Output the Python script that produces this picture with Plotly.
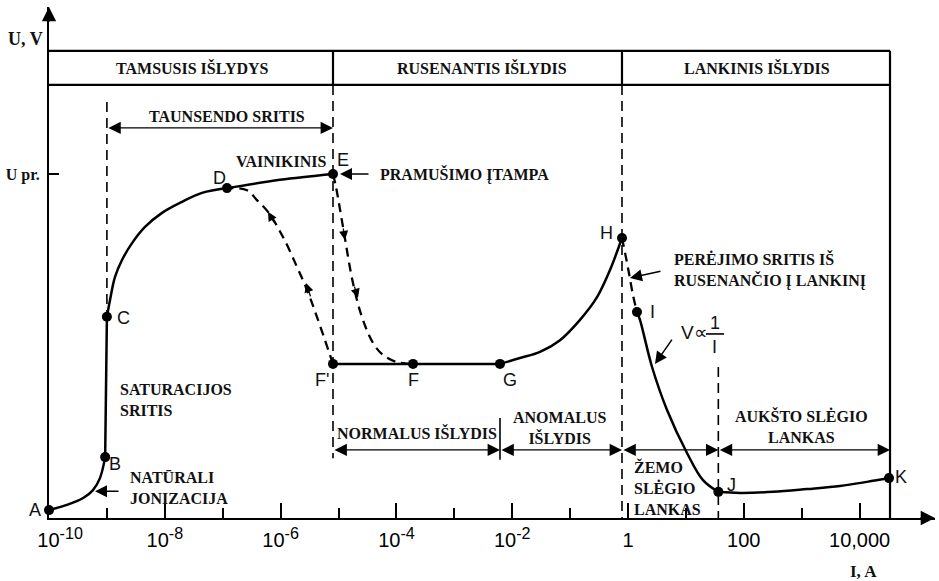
import plotly.graph_objects as go

# Current is given as log10(I / A); voltage as U / U_pr.
ab_logI = [-10.0, -9.69, -9.41, -9.24, -9.12, -9.03]
ab_U = [0.023, 0.038, 0.058, 0.081, 0.116, 0.177]

bc_logI = [-9.03, -9.0]
bc_U = [0.177, 0.585]

cd_logI = [-9.0, -8.946, -8.86, -8.739, -8.566, -8.342, -8.048, -7.702, -7.358, -6.926]
cd_U = [0.585, 0.634, 0.701, 0.750, 0.799, 0.846, 0.887, 0.919, 0.945, 0.959]

de_logI = [-6.926, -6.01, -5.095]
de_U = [0.959, 0.983, 1.0]

ef_logI = [-5.095, -5.043, -4.922, -4.75, -4.594, -4.404, -4.231, -3.99, -3.713]
ef_U = [1.0, 0.962, 0.846, 0.683, 0.584, 0.509, 0.474, 0.453, 0.448]

fd_logI = [-5.095, -5.371, -5.544, -5.717, -5.959, -6.218, -6.408, -6.58, -6.926]
fd_U = [0.448, 0.584, 0.663, 0.730, 0.817, 0.890, 0.924, 0.953, 0.959]

fg_logI = [-5.095, -2.211]
fg_U = [0.448, 0.448]

gh_logI = [-2.211, -1.865, -1.52, -1.174, -0.829, -0.535, -0.311, -0.104]
gh_U = [0.448, 0.465, 0.483, 0.517, 0.576, 0.642, 0.721, 0.814]

hi_logI = [-0.104, 0.0, 0.086, 0.155]
hi_U = [0.814, 0.727, 0.648, 0.599]

ij_logI = [0.155, 0.207, 0.415, 0.674, 1.019, 1.295, 1.56]
ij_U = [0.599, 0.576, 0.439, 0.314, 0.189, 0.110, 0.076]

jk_logI = [1.56, 1.934, 2.504, 3.091, 3.661, 4.128, 4.508]
jk_U = [0.076, 0.073, 0.076, 0.084, 0.093, 0.105, 0.116]

point_names = ["A", "B", "C", "D", "E", "F'", "F", "G", "H", "I", "J", "K"]
point_logI = [-10.0, -9.03, -9.0, -6.926, -5.095, -5.095, -3.713, -2.211, -0.104, 0.155, 1.56, 4.508]
point_U = [0.023, 0.177, 0.585, 0.959, 1.0, 0.448, 0.448, 0.448, 0.814, 0.599, 0.076, 0.116]

# Region boundaries (log10 I)
x_saturation = -9.0
x_breakdown = -5.095
x_normal_end = -2.211
x_glow_end = -0.104
x_low_arc_end = 1.56
x_right = 4.525

tick_logI = [-10, -8, -6, -4, -2, 0, 2, 4]
tick_exponents = ["-10", "-8", "-6", "-4", "-2"]
tick_plain = ["1", "100", "10,000"]
minor_tick_logI = [-9, -7, -5, -3, -1, 1, 3]


def power_label(exp):
    return f'10<sup><span style="font-size:115%">{exp}</span></sup>'


tick_text = [power_label(e) for e in tick_exponents] + tick_plain
tick_text[0] = "\u2007\u2007" + tick_text[0]

band_top, band_bottom = 1.358, 1.259

SERIF = "'Liberation Serif', 'Times New Roman', Tinos, 'DejaVu Serif', serif"
SANS = "'Liberation Sans', Arial, sans-serif"
INK = "#111111"

fig = go.Figure()

solid = dict(color="black", width=2.5)
dashed = dict(color="black", width=2.3, dash="9px,6px")

for xs, ys, ln, shp in [
    (ab_logI, ab_U, solid, "spline"),
    (bc_logI, bc_U, solid, "linear"),
    (cd_logI, cd_U, solid, "spline"),
    (de_logI, de_U, solid, "spline"),
    (ef_logI, ef_U, dashed, "spline"),
    (fd_logI, fd_U, dashed, "spline"),
    (fg_logI, fg_U, solid, "linear"),
    (gh_logI, gh_U, solid, "spline"),
    (hi_logI, hi_U, dashed, "spline"),
    (ij_logI, ij_U, solid, "spline"),
    (jk_logI, jk_U, solid, "spline"),
]:
    fig.add_trace(go.Scatter(x=xs, y=ys, mode="lines", line=dict(shape=shp, **ln),
                             hoverinfo="skip", showlegend=False))

fig.add_trace(go.Scatter(x=point_logI, y=point_U, mode="markers",
                         marker=dict(color="black", size=10),
                         text=point_names, cliponaxis=False, showlegend=False))

shapes = []


def hline(x0, x1, y, width=2, dash=None):
    shapes.append(dict(type="line", xref="x", yref="y", x0=x0, x1=x1, y0=y, y1=y,
                       line=dict(color="black", width=width, dash=dash)))


def vline(x, y0, y1, width=2, dash=None):
    shapes.append(dict(type="line", xref="x", yref="y", x0=x, x1=x, y0=y0, y1=y1,
                       line=dict(color="black", width=width, dash=dash)))


# Discharge-type header band
hline(-10.0, x_right, band_top, 2.2)
hline(-10.0, x_right, band_bottom, 2.2)
vline(x_breakdown, band_bottom, band_top, 2.2)
vline(x_glow_end, band_bottom, band_top, 2.2)
vline(x_right, 0, band_top, 2.2)

# Region separators
vdash = "10px,6px"
vline(x_saturation, 1.209, 0.585, 1.6, vdash)
vline(x_breakdown, band_bottom, 0.174, 1.6, vdash)
vline(x_glow_end, band_bottom, 0.0, 1.6, vdash)
vline(x_low_arc_end, 0.439, 0.0, 1.6, vdash)
vline(x_normal_end, 0.169, 0.291, 1.6)

# Fraction bar of V ∝ 1/I
hline(1.347, 1.658, 0.535, 1.6)

annotations = []


def text(x, y, s, size=16, serif=True, bold=True, xanchor="center", align="center",
         ref="data"):
    r = "x" if ref == "data" else "paper"
    ry = "y" if ref == "data" else "paper"
    annotations.append(dict(
        x=x, y=y, xref=r, yref=ry, text=f"<b>{s}</b>" if bold else s,
        showarrow=False, xanchor=xanchor, yanchor="middle", align=align,
        font=dict(family=SERIF if serif else SANS, size=size, color=INK)))


def arrow(x, y, ax, ay, both=False, size=1.4, width=1.4):
    d = dict(x=x, y=y, ax=ax, ay=ay, xref="x", yref="y", axref="x", ayref="y",
             text="", showarrow=True, arrowhead=2, arrowsize=size, arrowwidth=width,
             arrowcolor="black", standoff=0)
    if both:
        d.update(arrowside="end+start", startarrowhead=2, startarrowsize=size, startstandoff=0)
    annotations.append(d)


# Header band labels
band_mid = (band_top + band_bottom) / 2
text(-7.53, band_mid, "TAMSUSIS IŠLYDYS")
text(-2.52, band_mid, "RUSENANTIS IŠLYDIS")
text(2.23, band_mid, "LANKINIS IŠLYDIS")

# Range brackets
arrow(x_breakdown, 1.134, x_saturation, 1.134, both=True, size=1.9, width=1.3)
text(-6.93, 1.166, "TAUNSENDO SRITIS")
arrow(x_normal_end, 0.198, x_breakdown, 0.198, both=True, size=1.9, width=1.3)
arrow(x_glow_end, 0.198, x_normal_end, 0.198, both=True, size=1.9, width=1.3)
arrow(x_low_arc_end, 0.198, x_glow_end, 0.198, both=True, size=1.9, width=1.3)
arrow(x_right, 0.198, x_low_arc_end, 0.198, both=True, size=1.9, width=1.3)
text(-3.64, 0.247, "NORMALUS IŠLYDIS")
text(-1.19, 0.262, "ANOMALUS<br>IŠLYDIS")
text(0.07, 0.087, "ŽEMO<br>SLĖGIO<br>LANKAS", xanchor="left", align="left")
text(2.99, 0.267, "AUKŠTO SLĖGIO<br>LANKAS")

# Descriptive labels and pointers
text(-5.98, 1.035, "VAINIKINIS")
text(-4.318, 1.0, "PRAMUŠIMO ĮTAMPA", xanchor="left")
arrow(-4.974, 1.0, -4.456, 1.0, size=1.6, width=1.5)
text(-8.808, 0.343, "SATURACIJOS<br>SRITIS", xanchor="left", align="left")
text(-8.636, 0.087, "NATŪRALI<br>JONIZACIJA", xanchor="left", align="left")
arrow(-9.206, 0.078, -8.774, 0.078, size=1.6, width=1.5)
text(0.76, 0.721, "PERĖJIMO SRITIS IŠ<br>RUSENANČIO Į LANKINĮ", xanchor="left", align="left")
arrow(0.034, 0.698, 0.587, 0.718, size=1.6, width=1.5)
arrow(0.466, 0.448, 0.777, 0.523, size=1.6, width=1.5)

# V ∝ 1/I
text(1.14, 0.538, "V∝", size=19, serif=False, bold=False)
text(1.50, 0.568, "1", size=18, serif=False, bold=False)
text(1.50, 0.498, "I", size=18, serif=False, bold=False)

# Direction arrows along the dashed transitions
arrow(-6.218, 0.890, -6.097, 0.855, size=1.4, width=1.3)
arrow(-5.561, 0.683, -5.475, 0.640, size=1.4, width=1.3)
arrow(-4.888, 0.808, -4.922, 0.846, size=1.4, width=1.3)
arrow(-4.663, 0.640, -4.733, 0.677, size=1.4, width=1.3)

# Point letters (A sits left of the plotting area, so it is placed in paper units)
letter_pos = {
    "B": (-8.86, 0.157), "C": (-8.72, 0.581), "D": (-7.064, 0.988),
    "E": (-4.922, 1.041), "F'": (-5.285, 0.401), "F": (-3.713, 0.401), "G": (-2.038, 0.401),
    "H": (-0.363, 0.828), "I": (0.415, 0.599), "J": (1.779, 0.096), "K": (4.715, 0.119),
}
for name in point_names:
    if name in letter_pos:
        lx, ly = letter_pos[name]
        text(lx, ly, name, size=18, serif=False, bold=False)
text(-0.0158, 0.0157, "A", size=18, serif=False, bold=False, ref="paper")

# Axis titles
text(-0.026, 0.937, "U, V", size=18, ref="paper")
text(0.919, -0.104, "I, A", size=17, ref="paper")

# Axis arrowheads
annotations.append(dict(x=1.0, y=0, xref="paper", yref="paper", ax=-16, ay=0, text="",
                        showarrow=True, arrowhead=2, arrowsize=1.3, arrowwidth=2.2,
                        arrowcolor="black", standoff=0))
annotations.append(dict(x=0, y=1.0, xref="paper", yref="paper", ax=0, ay=16, text="",
                        showarrow=True, arrowhead=2, arrowsize=1.3, arrowwidth=2.2,
                        arrowcolor="black", standoff=0))

fig.update_layout(
    width=939, height=581,
    margin=dict(l=49, r=4, t=7, b=63),
    paper_bgcolor="white", plot_bgcolor="white",
    showlegend=False,
    shapes=shapes, annotations=annotations,
    xaxis=dict(
        range=[-10.0, 5.302], showgrid=False, zeroline=False,
        showline=True, linecolor="black", linewidth=2,
        tickmode="array", tickvals=tick_logI, ticktext=tick_text,
        ticks="inside", ticklen=15, tickwidth=2, tickcolor="black",
        tickfont=dict(family=SANS, size=20, color="black"),
        ticklabelstandoff=3,
        minor=dict(tickmode="array", tickvals=minor_tick_logI, ticks="inside",
                   ticklen=10, tickwidth=2, tickcolor="black"),
    ),
    yaxis=dict(
        range=[0, 1.4855], showgrid=False, zeroline=False,
        showline=True, linecolor="black", linewidth=2,
        tickmode="array", tickvals=[1.0], ticktext=["<b>U pr.</b>"],
        ticks="inside", ticklen=10, tickwidth=2, tickcolor="black",
        tickfont=dict(family=SERIF, size=16, color=INK),
        ticklabelstandoff=4,
    ),
)

fig.write_html("out.html")
